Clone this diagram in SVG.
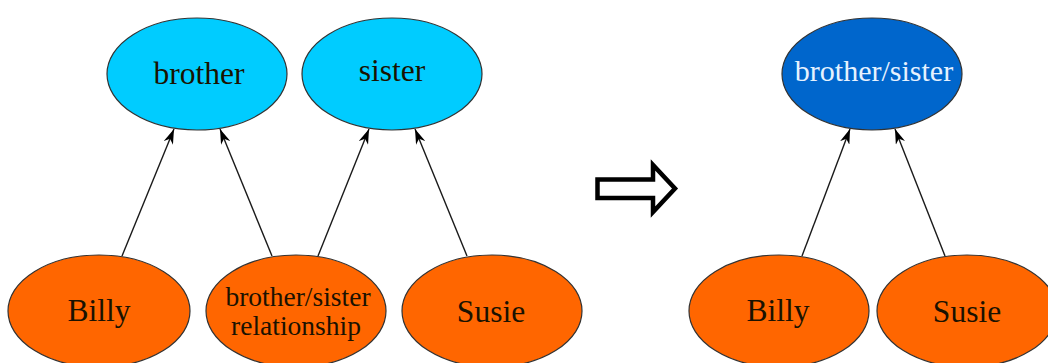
<svg xmlns="http://www.w3.org/2000/svg" width="1048" height="363" viewBox="0 0 1048 363">
  <style>
    .top { fill: #00ccff; stroke: #333; stroke-width: 1.2; }
    .merged { fill: #0066cc; stroke: #333; stroke-width: 1.2; }
    .leaf { fill: #ff6600; stroke: #333; stroke-width: 1.2; }
    .label { font-family: "Liberation Serif", "DejaVu Serif", serif; font-size: 31.5px; fill: #1a1200; text-anchor: middle; }
    .small { font-size: 27.5px; }
    .light { fill: #e6f2ff; font-size: 30px; }
    .edge { stroke: #1a1a1a; stroke-width: 1.4; fill: none; marker-end: url(#head); }
  </style>
  <defs>
    <marker id="head" viewBox="0 0 15 10" refX="15" refY="5" markerWidth="15" markerHeight="10" markerUnits="userSpaceOnUse" orient="auto">
      <path d="M0,0 L15,5 L0,10 L4.5,5 z" fill="#000"/>
    </marker>
  </defs>
  <rect width="1048" height="363" fill="#fff"/>

  <!-- relations -->
  <g id="edges">
    <line class="edge" x1="122" y1="256" x2="174" y2="129"/>
    <line class="edge" x1="272" y1="256" x2="220" y2="129"/>
    <line class="edge" x1="318" y1="256" x2="369" y2="129"/>
    <line class="edge" x1="467" y1="256" x2="415" y2="129"/>
    <line class="edge" x1="802" y1="256" x2="850" y2="129"/>
    <line class="edge" x1="945" y1="256" x2="895" y2="129"/>
  </g>

  <!-- separate concepts -->
  <g id="brother">
    <ellipse class="top" cx="197" cy="74" rx="90" ry="56"/>
    <text class="label" x="199" y="84">brother</text>
  </g>
  <g id="sister">
    <ellipse class="top" cx="392" cy="74" rx="90" ry="56"/>
    <text class="label" x="392" y="81">sister</text>
  </g>
  <g id="billy">
    <ellipse class="leaf" cx="99" cy="311" rx="91" ry="56"/>
    <text class="label" x="99" y="321">Billy</text>
  </g>
  <g id="relationship">
    <ellipse class="leaf" cx="296" cy="311" rx="90" ry="56"/>
    <text class="label small" x="298" y="306">brother/sister</text>
    <text class="label small" x="296" y="335">relationship</text>
  </g>
  <g id="susie">
    <ellipse class="leaf" cx="492" cy="311" rx="90" ry="56"/>
    <text class="label" x="491" y="322">Susie</text>
  </g>

  <!-- transformation arrow -->
  <g id="transform">
    <polygon points="597.5,179.5 653,179.5 653,165 675,188.5 653,212 653,198 597.5,198" fill="#fff" stroke="#000" stroke-width="4.5" stroke-linejoin="miter"/>
  </g>

  <!-- merged concept -->
  <g id="brother-sister">
    <ellipse class="merged" cx="872" cy="74" rx="90" ry="56"/>
    <text class="label light" x="874" y="81">brother/sister</text>
  </g>
  <g id="billy2">
    <ellipse class="leaf" cx="779" cy="311" rx="90" ry="56"/>
    <text class="label" x="778" y="321">Billy</text>
  </g>
  <g id="susie2">
    <ellipse class="leaf" cx="967" cy="311" rx="90" ry="56"/>
    <text class="label" x="967" y="322">Susie</text>
  </g>
</svg>
